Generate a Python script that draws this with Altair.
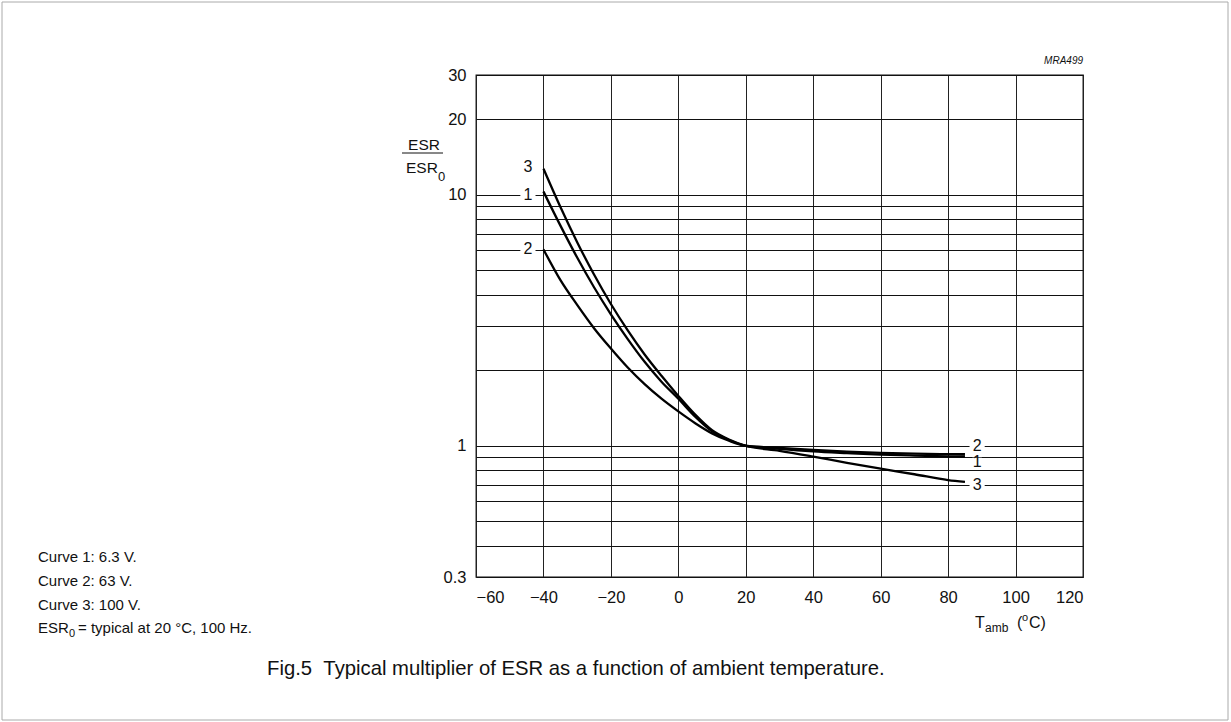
import altair as alt
import pandas as pd

# ---- data ----
temps = [-40, -35, -30, -25, -20, -15, -10, -5, 0, 5, 10, 15, 20, 30, 40, 50, 60, 70, 80, 85]
curve1 = [10.3, 7.55, 5.62, 4.28, 3.34, 2.66, 2.16, 1.80, 1.54, 1.306, 1.142, 1.054, 1.0,
          0.972, 0.95, 0.935, 0.922, 0.914, 0.908, 0.906]
curve2 = [6.06, 4.58, 3.64, 2.94, 2.44, 2.05, 1.76, 1.54, 1.37, 1.23, 1.12, 1.047, 1.0,
          0.98, 0.962, 0.948, 0.937, 0.93, 0.926, 0.925]
curve3 = [12.7, 8.95, 6.47, 4.81, 3.67, 2.88, 2.31, 1.90, 1.58, 1.33, 1.153, 1.059, 1.0,
          0.955, 0.905, 0.855, 0.81, 0.77, 0.73, 0.718]

x_ticks = [-60, -40, -20, 0, 20, 40, 60, 80, 100, 120]
y_grid = [0.3, 0.4, 0.5, 0.6, 0.7, 0.8, 0.9, 1, 2, 3, 4, 5, 6, 7, 8, 9, 10, 20, 30]
y_labelled = [0.3, 1, 10, 20, 30]

label_names = ["3", "1", "2", "2", "1", "3"]
label_x = [-44.6, -44.6, -44.6, 88.6, 88.6, 88.6]
label_y = [12.9, 10, 6.1, 1.0, 0.858, 0.7]
label_gap = [0, 230, 230, 230, 90, 230]

notes = ["Curve 1: 6.3 V.", "Curve 2: 63 V.", "Curve 3: 100 V."]
caption = "Fig.5\u00a0\u00a0Typical multiplier of ESR as a function of ambient temperature."

rows = []
for name, vals in (("1", curve1), ("2", curve2), ("3", curve3)):
    for t, v in zip(temps, vals):
        rows.append({"curve": name, "t": t, "v": v})
df = pd.DataFrame(rows)
lab = pd.DataFrame({"name": label_names, "t": label_x, "v": label_y, "gap": label_gap})

FONT = "Liberation Sans"

xs = alt.Scale(domain=[-60, 120], nice=False, zero=False)
ys = alt.Scale(type="log", domain=[0.3, 30], nice=False)

ylab_expr = " || ".join(f"datum.value == {v}" for v in y_labelled)
ylab_expr = f"({ylab_expr}) ? format(datum.value, '') : ''"

lines = alt.Chart(df).mark_line(color="black", strokeWidth=2.3, interpolate="monotone").encode(
    x=alt.X("t:Q", scale=xs,
            axis=alt.Axis(values=x_ticks, grid=True, ticks=False, domain=False, title=None,
                          labelFont=FONT, labelFontSize=16.5, labelColor="#111",
                          labelPadding=12, gridColor="#222", gridWidth=1,
                          labelExpr="datum.value < 0 ? '\u2212' + abs(datum.value) : datum.label")),
    y=alt.Y("v:Q", scale=ys,
            axis=alt.Axis(values=y_grid, grid=True, ticks=False, domain=False, title=None,
                          labelFont=FONT, labelFontSize=16.5, labelColor="#111",
                          labelPadding=10, gridColor="#111", gridWidth=1.1,
                          labelExpr=ylab_expr)),
    detail="curve:N",
)

bg = alt.Chart(lab).mark_square(color="white", opacity=1).encode(
    x=alt.X("t:Q", scale=xs), y=alt.Y("v:Q", scale=ys),
    size=alt.Size("gap:Q", scale=None, legend=None))
labels = alt.Chart(lab).mark_text(font=FONT, fontSize=16, color="#111").encode(
    x=alt.X("t:Q", scale=xs), y=alt.Y("v:Q", scale=ys), text="name:N")


def txt(s, x, y, size=15, align="left", baseline="alphabetic", style="normal"):
    return alt.Chart(alt.Data(values=[{}])).mark_text(
        text=s, font=FONT, fontSize=size, align=align, baseline=baseline,
        fontStyle=style, color="#111"
    ).encode(x=alt.value(x), y=alt.value(y))


anns = [
    txt("MRA499", 607, -11, size=10, align="right", style="italic"),
    # y title
    txt("ESR", -52, 75, size=15.5, align="center"),
    alt.Chart(alt.Data(values=[{}])).mark_rule(color="#111", strokeWidth=1).encode(
        x=alt.value(-74), x2=alt.value(-33), y=alt.value(78)),
    txt("ESR", -70, 98, size=15.5),
    txt("0", -38, 106, size=13),
    # x title
    txt("T", 499, 553, size=16),
    txt("amb", 509, 557, size=12),
    txt("(", 541, 553, size=16),
    txt("o", 546, 546, size=11),
    txt("C)", 553, 553, size=16),
    # notes
    txt(notes[0], -438, 487, size=15),
    txt(notes[1], -438, 511, size=15),
    txt(notes[2], -438, 535, size=15),
    txt("ESR", -438, 558, size=15),
    txt("0", -407, 562, size=11),
    txt("= typical at 20 \u00b0C, 100 Hz.", -398, 558, size=15),
    # caption
    txt(caption, -209, 600, size=20.3),
    # page border
    alt.Chart(alt.Data(values=[{}])).mark_rect(fill=None, stroke="#aaa", strokeWidth=1).encode(
        x=alt.value(-474), x2=alt.value(752), y=alt.value(-73), y2=alt.value(645)),
]

chart = alt.layer(lines, bg, labels, *anns).properties(
    width=607, height=502,
    autosize=alt.AutoSizeParams(type="none"),
    padding={"left": 476, "top": 75, "right": 148, "bottom": 145},
    background="white",
).configure_view(stroke="#111", strokeWidth=1.3)

chart.save("out.html", embed_options={"renderer": "svg", "actions": False})
